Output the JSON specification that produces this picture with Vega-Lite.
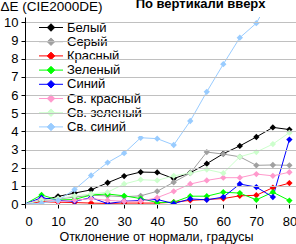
{
  "$schema": "https://vega.github.io/schema/vega-lite/v6.json",
  "width": 271,
  "height": 187,
  "autosize": "none",
  "padding": {"left": 25, "top": 17, "right": 0, "bottom": 40},
  "background": "white",
  "config": {"view": {"stroke": null}, "font": "Liberation Sans"},
  "title": {"text": "По вертикали вверх", "fontSize": 13, "fontWeight": "bold", "font": "Liberation Sans", "anchor": "middle", "dx": 40, "dy": 16, "offset": 4, "color": "black", "zindex": 3},
  "data": {"values": [
    {"s":"Белый","x":0,"y":0},{"s":"Белый","x":5,"y":0.2},{"s":"Белый","x":10,"y":0.42},{"s":"Белый","x":15,"y":0.6},{"s":"Белый","x":20,"y":0.78},{"s":"Белый","x":25,"y":1.17},{"s":"Белый","x":30,"y":1.54},{"s":"Белый","x":35,"y":1.76},{"s":"Белый","x":40,"y":1.74},{"s":"Белый","x":45,"y":1.4},{"s":"Белый","x":50,"y":1.72},{"s":"Белый","x":55,"y":2.22},{"s":"Белый","x":60,"y":2.77},{"s":"Белый","x":65,"y":3.2},{"s":"Белый","x":70,"y":3.69},{"s":"Белый","x":75,"y":4.22},{"s":"Белый","x":80,"y":4.1},
    {"s":"Серый","x":0,"y":0},{"s":"Серый","x":5,"y":0.18},{"s":"Серый","x":10,"y":0.28},{"s":"Серый","x":15,"y":0.38},{"s":"Серый","x":20,"y":0.48},{"s":"Серый","x":25,"y":0.45},{"s":"Серый","x":30,"y":0.4},{"s":"Серый","x":35,"y":0.45},{"s":"Серый","x":40,"y":0.7},{"s":"Серый","x":45,"y":1.2},{"s":"Серый","x":50,"y":1.7},{"s":"Серый","x":55,"y":2.86},{"s":"Серый","x":60,"y":2.75},{"s":"Серый","x":65,"y":2.6},{"s":"Серый","x":70,"y":2.13},{"s":"Серый","x":75,"y":2.15},{"s":"Серый","x":80,"y":2.13},
    {"s":"Красный","x":0,"y":0},{"s":"Красный","x":5,"y":0.12},{"s":"Красный","x":10,"y":0.1},{"s":"Красный","x":15,"y":0.08},{"s":"Красный","x":20,"y":0.05},{"s":"Красный","x":25,"y":0.03},{"s":"Красный","x":30,"y":0.05},{"s":"Красный","x":35,"y":0.05},{"s":"Красный","x":40,"y":0.05},{"s":"Красный","x":45,"y":0.1},{"s":"Красный","x":50,"y":0.2},{"s":"Красный","x":55,"y":0.25},{"s":"Красный","x":60,"y":0.3},{"s":"Красный","x":65,"y":0.45},{"s":"Красный","x":70,"y":0.48},{"s":"Красный","x":75,"y":0.9},{"s":"Красный","x":80,"y":1.15},
    {"s":"Зеленый","x":0,"y":0},{"s":"Зеленый","x":5,"y":0.5},{"s":"Зеленый","x":10,"y":0.22},{"s":"Зеленый","x":15,"y":0.25},{"s":"Зеленый","x":20,"y":0.5},{"s":"Зеленый","x":25,"y":0.55},{"s":"Зеленый","x":30,"y":0.45},{"s":"Зеленый","x":35,"y":0.3},{"s":"Зеленый","x":40,"y":0.08},{"s":"Зеленый","x":45,"y":0.1},{"s":"Зеленый","x":50,"y":0.43},{"s":"Зеленый","x":55,"y":0.43},{"s":"Зеленый","x":60,"y":0.65},{"s":"Зеленый","x":65,"y":0.6},{"s":"Зеленый","x":70,"y":0.23},{"s":"Зеленый","x":75,"y":0.65},{"s":"Зеленый","x":80,"y":0.19},
    {"s":"Синий","x":0,"y":0},{"s":"Синий","x":5,"y":0.35},{"s":"Синий","x":10,"y":0.2},{"s":"Синий","x":15,"y":0.15},{"s":"Синий","x":20,"y":0.35},{"s":"Синий","x":25,"y":0.02},{"s":"Синий","x":30,"y":0.15},{"s":"Синий","x":35,"y":0.2},{"s":"Синий","x":40,"y":0.25},{"s":"Синий","x":45,"y":0.02},{"s":"Синий","x":50,"y":0.28},{"s":"Синий","x":55,"y":0.23},{"s":"Синий","x":60,"y":0.38},{"s":"Синий","x":65,"y":1.1},{"s":"Синий","x":70,"y":0.93},{"s":"Синий","x":75,"y":0.38},{"s":"Синий","x":80,"y":3.55},
    {"s":"Св. красный","x":0,"y":0},{"s":"Св. красный","x":5,"y":0.25},{"s":"Св. красный","x":10,"y":0.15},{"s":"Св. красный","x":15,"y":0.2},{"s":"Св. красный","x":20,"y":0.3},{"s":"Св. красный","x":25,"y":0.2},{"s":"Св. красный","x":30,"y":0.15},{"s":"Св. красный","x":35,"y":0.15},{"s":"Св. красный","x":40,"y":0.35},{"s":"Св. красный","x":45,"y":0.7},{"s":"Св. красный","x":50,"y":1.1},{"s":"Св. красный","x":55,"y":1.3},{"s":"Св. красный","x":60,"y":1.45},{"s":"Св. красный","x":65,"y":1.45},{"s":"Св. красный","x":70,"y":1.65},{"s":"Св. красный","x":75,"y":1.55},{"s":"Св. красный","x":80,"y":1.75},
    {"s":"Св. зеленый","x":0,"y":0},{"s":"Св. зеленый","x":5,"y":0.2},{"s":"Св. зеленый","x":10,"y":0.3},{"s":"Св. зеленый","x":15,"y":0.45},{"s":"Св. зеленый","x":20,"y":0.55},{"s":"Св. зеленый","x":25,"y":0.65},{"s":"Св. зеленый","x":30,"y":1.1},{"s":"Св. зеленый","x":35,"y":1.34},{"s":"Св. зеленый","x":40,"y":1.3},{"s":"Св. зеленый","x":45,"y":1.55},{"s":"Св. зеленый","x":50,"y":1.7},{"s":"Св. зеленый","x":55,"y":1.9},{"s":"Св. зеленый","x":60,"y":1.7},{"s":"Св. зеленый","x":65,"y":2.6},{"s":"Св. зеленый","x":70,"y":2.86},{"s":"Св. зеленый","x":75,"y":3.3},{"s":"Св. зеленый","x":80,"y":3.93},
    {"s":"Св. синий","x":0,"y":0},{"s":"Св. синий","x":5,"y":0.05},{"s":"Св. синий","x":10,"y":0.2},{"s":"Св. синий","x":15,"y":0.8},{"s":"Св. синий","x":20,"y":1.57},{"s":"Св. синий","x":25,"y":2.28},{"s":"Св. синий","x":30,"y":2.8},{"s":"Св. синий","x":35,"y":3.65},{"s":"Св. синий","x":40,"y":3.6},{"s":"Св. синий","x":45,"y":3.25},{"s":"Св. синий","x":50,"y":4.57},{"s":"Св. синий","x":55,"y":6.18},{"s":"Св. синий","x":60,"y":7.7},{"s":"Св. синий","x":65,"y":9.16},{"s":"Св. синий","x":70,"y":9.96},{"s":"Св. синий","x":75,"y":11.6},{"s":"Св. синий","x":80,"y":13}
  ]},
  "encoding": {
    "x": {"field": "x", "type": "quantitative",
      "scale": {"domain": [0, 82], "nice": false, "zero": false},
      "axis": {"values": [0,10,20,30,40,50,60,70,80], "grid": false, "domainColor": "black", "tickColor": "black", "tickSize": 4,
        "labelFontSize": 13, "labelColor": "black", "labelPadding": 7, "labelFont": "Liberation Sans",
        "title": "Отклонение от нормали, градусы", "titleFontSize": 12.5, "titleFontWeight": "normal", "titleColor": "black", "titlePadding": 2, "titleFont": "Liberation Sans", "titleX": 131}},
    "y": {"field": "y", "type": "quantitative",
      "scale": {"domain": [0, 10.3], "nice": false},
      "axis": {"values": [0,1,2,3,4,5,6,7,8,9,10], "grid": true, "gridColor": "#c0c0c0", "domainColor": "black", "tickColor": "black", "tickSize": 4, "zindex": 3,
        "labelFontSize": 13, "labelColor": "black", "labelPadding": 3, "labelFont": "Liberation Sans",
        "title": "ΔE (CIE2000DE)", "titleAngle": 0, "titleAlign": "left", "titleBaseline": "alphabetic", "titleX": -25, "titleY": -7,
        "titleFontSize": 13.5, "titleFontWeight": "normal", "titleColor": "black", "titleFont": "Liberation Sans"}},
    "color": {"field": "s", "type": "nominal",
      "scale": {"domain": ["Белый","Серый","Красный","Зеленый","Синий","Св. красный","Св. зеленый","Св. синий"],
                "range": ["#000000","#a0a0a0","#ff0000","#00ff00","#0000ff","#ff99cc","#ccffcc","#99ccff"]},
      "legend": {"orient": "none", "legendX": 2, "legendY": 2, "title": null, "fillColor": "white", "zindex": 1,
        "symbolType": "M0.7,0H5.5M3.1,-0.75L3.85,0L3.1,0.75L2.35,0Z", "symbolSize": 100, "symbolStrokeWidth": 1,
        "labelFontSize": 13, "labelColor": "black", "labelFont": "Liberation Sans", "labelOffset": 25, "rowPadding": 0.2, "padding": 2,
        "encode": {"symbols": {"update": {"fill": {"scale": "color", "field": "value"}, "stroke": {"scale": "color", "field": "value"}, "opacity": {"value": 1}}}}}}
  },
  "layer": [
    {"mark": {"type": "line", "strokeWidth": 1, "clip": true}},
    {"mark": {"type": "point", "shape": "diamond", "filled": true, "size": 40, "opacity": 1, "clip": true}}
  ]
}
